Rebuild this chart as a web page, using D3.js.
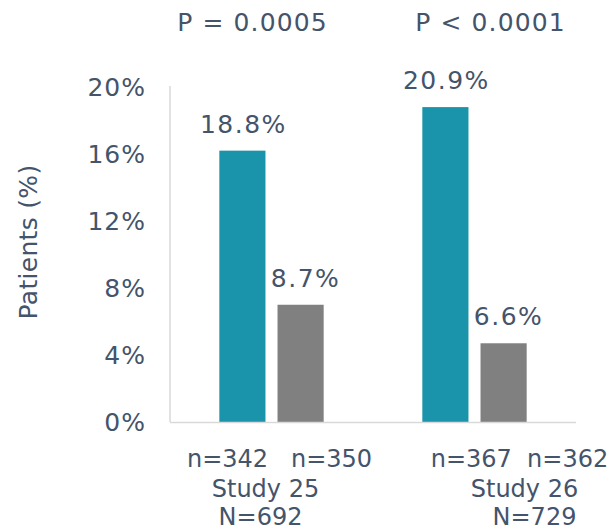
<!DOCTYPE html>
<html>
<head>
<meta charset="utf-8">
<script src="https://cdn.jsdelivr.net/npm/d3@7"></script>
<style>
  body { margin:0; background:#fff; }
  text { font-family:"DejaVu Sans", Verdana, sans-serif; fill:#44546a; }
</style>
</head>
<body>
<svg id="chart"></svg>
<script>
// The data
var studies = ["Study 25", "Study 26"];
var totals = ["N=692", "N=729"];
var pvalues = ["P = 0.0005", "P < 0.0001"];
var arms = ["treated", "placebo"];
// bar heights as they are drawn on the slide
var barValues = [[16.2, 7.0], [18.8, 4.7]];
// the printed labels above the bars
var barLabels = [["18.8%", "8.7%"], ["20.9%", "6.6%"]];
var armCounts = [["n=342", "n=350"], ["n=367", "n=362"]];
var yTicks = [0, 4, 8, 12, 16, 20];

// General vars (careful: 'top' is taken by window)
var width = 613,
    height = 530,
    plotLeft = 170,
    plotRight = 576,
    plotTop = 87,
    plotBottom = 422;

var colors = d3.scaleOrdinal()
  .domain(arms)
  .range(['#1a94ab', '#808080']);

var svg = d3.select('svg#chart')
  .attr('width', width)
  .attr('height', height);

// Scales
var x0 = d3.scaleBand()
  .domain(studies)
  .range([plotLeft, plotRight])
  .paddingInner(0.486)
  .paddingOuter(0.243);

var x1 = d3.scaleBand()
  .domain(arms)
  .range([0, x0.bandwidth()])
  .paddingInner(0.207);

var y = d3.scaleLinear()
  .domain([0, 20])
  .range([plotBottom, plotTop]);

// Y axis: labels only plus a light line
svg.append('line')
  .attr('x1', plotLeft).attr('x2', plotLeft)
  .attr('y1', y(20) - 1).attr('y2', plotBottom)
  .attr('stroke', '#d9d9d9').attr('stroke-width', 1.5);

svg.selectAll('text.tick')
  .data(yTicks)
  .enter().append('text')
    .attr('class', 'tick')
    .attr('x', 146)
    .attr('y', function(d){ return y(d); })
    .attr('dy', '0.36em')
    .attr('text-anchor', 'end')
    .style('font-size', '25px')
    .style('letter-spacing', '1px')
    .text(function(d){ return d + '%'; });

// Axis title
svg.append('text')
  .attr('transform', 'translate(28,242) rotate(-90)')
  .attr('text-anchor', 'middle')
  .attr('dy', '0.36em')
  .style('font-size', '25px')
  .style('letter-spacing', '0.3px')
  .text('Patients (%)');

// One g per study
var groups = svg.selectAll('g.study')
  .data(studies)
  .enter().append('g')
    .attr('class', 'study')
    .attr('transform', function(d){ return 'translate(' + x0(d) + ',0)'; });

function armRows(d, i){
  return arms.map(function(a, j){ return {arm:a, value:barValues[i][j], label:barLabels[i][j]}; });
}

groups.selectAll('rect')
  .data(armRows)
  .enter().append('rect')
    .attr('x', function(d){ return x1(d.arm); })
    .attr('y', function(d){ return y(d.value); })
    .attr('width', x1.bandwidth())
    .attr('height', function(d){ return y(0) - y(d.value); })
    .attr('fill', function(d){ return colors(d.arm); });

// Value labels
groups.selectAll('text.value')
  .data(armRows)
  .enter().append('text')
    .attr('class', 'value')
    .attr('x', function(d){ return x1(d.arm) + x1.bandwidth()/2 + (d.arm == 'placebo' ? 5 : 1); })
    .attr('y', function(d){ return y(d.value) - 18; })
    .attr('text-anchor', 'middle')
    .style('font-size', '25px')
    .style('letter-spacing', '1.5px')
    .text(function(d){ return d.label; });

// Baseline
svg.append('line')
  .attr('x1', plotLeft).attr('x2', plotRight)
  .attr('y1', plotBottom + 0.5).attr('y2', plotBottom + 0.5)
  .attr('stroke', '#d9d9d9').attr('stroke-width', 1.5);

// P values on top
groups.append('text')
  .attr('x', function(d, i){ return x0.bandwidth()/2 + [-19, 16][i]; })
  .attr('y', 31)
  .attr('text-anchor', 'middle')
  .style('font-size', '25px')
  .style('letter-spacing', '1.1px')
  .text(function(d, i){ return pvalues[i]; });

// Category labels below
var lineOffsets = [[8, -6, -11], [45, 50, 60]];
groups.append('text')
  .attr('x', function(d, i){ return x0.bandwidth()/2 + lineOffsets[i][0]; })
  .attr('y', 467)
  .attr('text-anchor', 'middle')
  .style('font-size', '24px')
  .style('white-space', 'pre')
  .text(function(d, i){ return armCounts[i][0] + (i == 0 ? '   ' : '  ') + armCounts[i][1]; });

groups.append('text')
  .attr('x', function(d, i){ return x0.bandwidth()/2 + lineOffsets[i][1]; })
  .attr('y', 497)
  .attr('text-anchor', 'middle')
  .style('font-size', '24px')
  .text(function(d){ return d; });

groups.append('text')
  .attr('x', function(d, i){ return x0.bandwidth()/2 + lineOffsets[i][2]; })
  .attr('y', 525)
  .attr('text-anchor', 'middle')
  .style('font-size', '24px')
  .text(function(d, i){ return totals[i]; });
</script>
</body>
</html>
